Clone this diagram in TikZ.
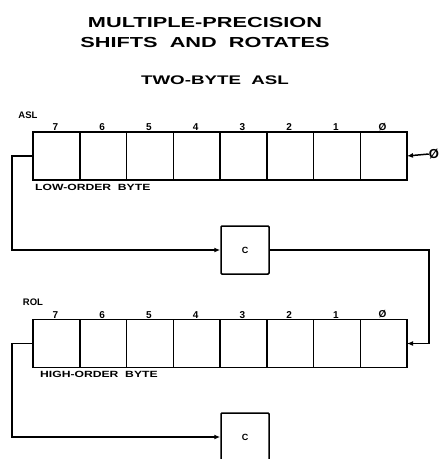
\documentclass[tikz,border=0pt]{standalone}
\usepackage{fontspec}
\setmainfont{Liberation Sans}
\newfontfamily\widefont[FakeStretch=1.5]{Liberation Sans}
\newfontfamily\midfont[FakeStretch=1.35]{Liberation Sans}
\usetikzlibrary{arrows.meta}
\begin{document}
\begin{tikzpicture}[x=1pt,y=-1pt,
  cell/.style={draw,line width=1.5pt,minimum width=46.75pt,minimum height=48pt,inner sep=0pt,outer sep=0pt},
  cbox/.style={draw,line width=1.5pt,minimum width=48pt,minimum height=48pt,inner sep=0pt,rounded corners=1pt,font=\bfseries\fontsize{9}{9}\selectfont},
  arr/.style={line width=1.5pt,-{Latex[length=6pt,width=5pt]}},
  bit/.style={font=\bfseries\fontsize{10}{10}\selectfont,inner sep=0pt},
  reg/.style={font=\bfseries\fontsize{9.5}{9.5}\selectfont,inner sep=0pt},
  lbl/.style={font=\midfont\bfseries\fontsize{9}{9}\selectfont,inner sep=0pt},
  ttl/.style={font=\widefont\bfseries\fontsize{14.5}{14.5}\selectfont,inner sep=0pt}]
\useasboundingbox (0,0) rectangle (444,459);
\begin{scope}
\clip (0,0) rectangle (444,459);
\node[ttl] (t1) at (205,23) {MULTIPLE-PRECISION};
\node[ttl] (t2) at (205,43) {SHIFTS\ \ AND\ \ ROTATES};
\node[font=\widefont\bfseries\fontsize{12.5}{12.5}\selectfont,inner sep=0pt] (t3) at (215,80) {TWO-BYTE\ \ ASL};
% registers
\foreach \i in {0,...,7}{
  \node[cell] (u\i) at ({33+46.75*(7-\i)+23.375},156) {};
  \node[cell] (h\i) at ({33+46.75*(7-\i)+23.375},343.5) {};
}
\foreach \i/\t in {7/7,6/6,5/5,4/4,3/3,2/2,1/1,0/Ø}{
  \node[bit,anchor=south] (ub\i) at ([xshift=-1pt,yshift=1pt]u\i.north) {\t};
  \node[bit,anchor=south] (hb\i) at ([xshift=-1pt,yshift=1pt]h\i.north) {\t};
}
\node[reg] (asl) at (28,115) {ASL};
\node[reg] (rol) at (33,302) {ROL};
\node[lbl,anchor=north west] (low) at (35,184) {LOW-ORDER\ \ BYTE};
\node[lbl,anchor=north west] (high) at (40,371) {HIGH-ORDER\ \ BYTE};
\node[font=\bfseries\fontsize{13}{13}\selectfont,inner sep=0pt] (zin) at (434,154) {Ø};
\node[cbox] (c1) at (245,250) {C};
\node[cbox] (c2) at (245,437) {C};
\draw[arr] (zin.west) -- (u0.east);
\draw[arr] (u7.west) -- ++(-21,0) |- (c1.west);
\draw[arr] (c1.east) -| ([xshift=22pt]h0.east) -- (h0.east);
\draw[arr] (h7.west) -- ++(-21,0) |- (c2.west);
\end{scope}
\end{tikzpicture}
\end{document}
